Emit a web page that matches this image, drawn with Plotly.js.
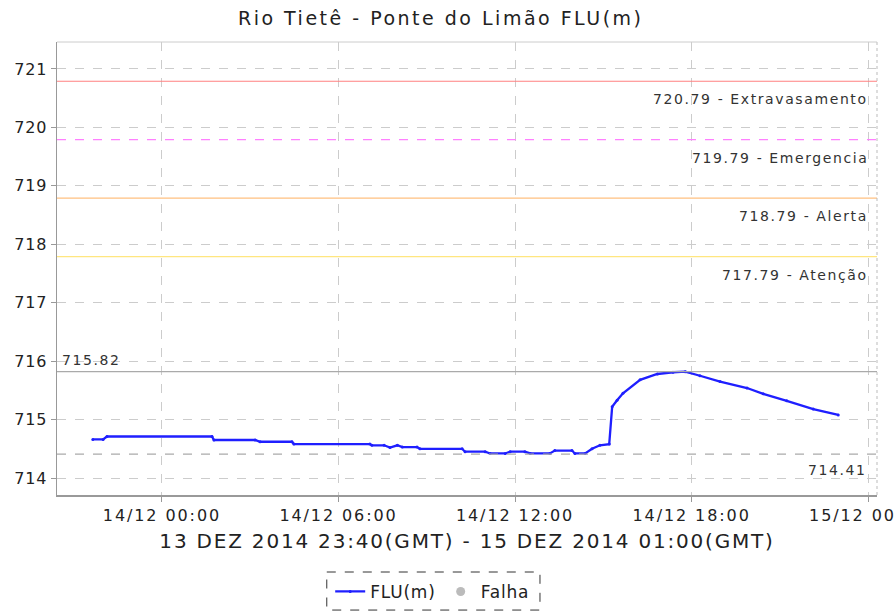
<!DOCTYPE html>
<html>
<head>
<meta charset="utf-8">
<script src="https://cdn.plot.ly/plotly-3.0.1.min.js"></script>
<style>
html,body{margin:0;padding:0;background:#fff;}
#chart{width:894px;height:614px;}
.gtitle{letter-spacing:2.5px;}
.xtitle{letter-spacing:1.8px;}
.xtick text{letter-spacing:1.9px;}
.ytick text{letter-spacing:0.8px;}
.annotation-text{letter-spacing:1.6px;}
.legendtext{letter-spacing:0.8px;}
</style>
</head>
<body>
<div id="chart"></div>
<script>
const times = [
  '2014-12-13 21:39','2014-12-13 22:00','2014-12-13 22:08','2014-12-14 01:42','2014-12-14 01:46',
  '2014-12-14 03:10','2014-12-14 03:20','2014-12-14 04:25','2014-12-14 04:29','2014-12-14 07:04',
  '2014-12-14 07:08','2014-12-14 07:33','2014-12-14 07:45','2014-12-14 08:00','2014-12-14 08:10',
  '2014-12-14 08:40','2014-12-14 08:46','2014-12-14 10:12','2014-12-14 10:18','2014-12-14 10:59',
  '2014-12-14 11:09','2014-12-14 11:40','2014-12-14 11:50','2014-12-14 12:20','2014-12-14 12:31',
  '2014-12-14 13:11','2014-12-14 13:21','2014-12-14 13:56','2014-12-14 14:02','2014-12-14 14:23',
  '2014-12-14 14:37','2014-12-14 14:53','2014-12-14 15:12','2014-12-14 15:18','2014-12-14 15:28',
  '2014-12-14 15:40','2014-12-14 16:15','2014-12-14 16:50','2014-12-14 17:22','2014-12-14 17:47',
  '2014-12-14 18:17','2014-12-14 18:58','2014-12-14 19:53','2014-12-14 20:26','2014-12-14 21:14',
  '2014-12-14 22:08','2014-12-14 22:59'
];
const levels = [
  714.66,714.66,714.71,714.71,714.65,
  714.65,714.62,714.62,714.58,714.58,
  714.56,714.56,714.52,714.56,714.53,
  714.53,714.50,714.50,714.45,714.45,
  714.42,714.42,714.45,714.45,714.42,
  714.42,714.47,714.47,714.42,714.42,
  714.50,714.56,714.58,715.22,715.33,
  715.45,715.68,715.78,715.81,715.82,
  715.75,715.65,715.54,715.44,715.32,
  715.18,715.08
];
const thresholdValues = [720.79, 719.79, 718.79, 717.79];
const thresholdNames = ['Extravasamento', 'Emergencia', 'Alerta', 'Atenção'];
const thresholdColors = ['#ff8080', '#ff80ff', '#ffc080', '#ffe680'];
const thresholdDash = ['solid', 'dash', 'solid', 'solid'];
const maxValue = 715.82;
const minValue = 714.41;
const xRange = ['2014-12-13 20:26', '2014-12-15 00:18'];
const yRange = [713.709, 721.462];

const font = 'DejaVu Sans, Liberation Sans, sans-serif';

const shapes = [];
const annotations = [];
thresholdValues.forEach((v, i) => {
  shapes.push({type:'line', xref:'paper', x0:0, x1:1, yref:'y', y0:v, y1:v,
    line:{color:thresholdColors[i], width:1.2, dash:thresholdDash[i]}});
  annotations.push({xref:'paper', x:0.992, xanchor:'right', yref:'y', y:v, yanchor:'top', yshift:-8,
    text: v.toFixed(2) + ' - ' + thresholdNames[i], showarrow:false,
    font:{family:font, size:14, color:'#333'}});
});
shapes.push({type:'line', xref:'paper', x0:0, x1:1, yref:'y', y0:maxValue, y1:maxValue,
  line:{color:'#aaaaaa', width:1.2}});
shapes.push({type:'line', xref:'paper', x0:0, x1:1, yref:'y', y0:minValue, y1:minValue,
  line:{color:'#aaaaaa', width:1.2, dash:'dash'}});
annotations.push({xref:'paper', x:0.004, xanchor:'left', yref:'y', y:maxValue, yanchor:'bottom', yshift:2,
  text: maxValue.toFixed(2), showarrow:false, font:{family:font, size:14, color:'#333'}});
annotations.push({xref:'paper', x:0.99, xanchor:'right', yref:'y', y:minValue, yanchor:'top', yshift:-6,
  text: minValue.toFixed(2), showarrow:false, font:{family:font, size:14, color:'#333'}});

const data = [
  {x: times, y: levels, type:'scatter', mode:'lines+markers', name:'FLU(m)',
   line:{color:'#1f1fff', width:2.3}, marker:{color:'#1f1fff', size:3}},
  {x:[null], y:[null], type:'scatter', mode:'markers', name:'Falha',
   marker:{color:'#bbbbbb', size:9}}
];

const layout = {
  width:894, height:614,
  margin:{l:57, r:17, t:42, b:119},
  paper_bgcolor:'#fff', plot_bgcolor:'#fff',
  title:{text:'Rio Tietê - Ponte do Limão FLU(m)', font:{family:font, size:19, color:'#222'}, x:0.493, xanchor:'center', y:0.97, yanchor:'middle', automargin:false},
  xaxis:{type:'date', range:xRange, dtick:6*3600*1000, tick0:'2014-12-14 00:00', tickformat:'%d/%m %H:%M',
    automargin:false,
    showgrid:true, gridcolor:'#cccccc', griddash:'dash', gridwidth:1,
    showline:true, linecolor:'#999', linewidth:1.5, mirror:false,
    ticks:'outside', ticklen:5, tickcolor:'#999', ticklabeloverflow:'allow',
    tickfont:{family:font, size:16, color:'#222'}, zeroline:false,
    title:{text:'13 DEZ 2014 23:40(GMT) - 15 DEZ 2014 01:00(GMT)', font:{family:font, size:20, color:'#222'}, standoff:10}},
  yaxis:{range:yRange, dtick:1, tick0:714, automargin:false,
    showgrid:true, gridcolor:'#cccccc', griddash:'dash', gridwidth:1,
    showline:true, linecolor:'#999', linewidth:1.5, mirror:false,
    ticks:'outside', ticklen:5, tickcolor:'#999',
    tickfont:{family:font, size:16, color:'#222'}, zeroline:false},
  shapes: shapes.concat([
    {type:'line', xref:'paper', yref:'paper', x0:1, x1:1, y0:0, y1:1, line:{color:'#bbb', width:1, dash:'dot'}},
    {type:'line', xref:'paper', yref:'paper', x0:0, x1:1, y0:1, y1:1, line:{color:'#ccc', width:1}},
    {type:'rect', xref:'paper', yref:'paper', x0:0.329, x1:0.589, y0:-0.17, y1:-0.254, line:{color:'#333', width:1, dash:'dash'}}
  ]),
  annotations: annotations,
  showlegend:true,
  legend:{orientation:'h', xref:'container', yref:'container', x:0.484, xanchor:'center', y:0.036, yanchor:'middle',
    borderwidth:0, font:{family:font, size:17, color:'#222'}, bgcolor:'rgba(0,0,0,0)'}
};

Plotly.newPlot('chart', data, layout, {displayModeBar:false, staticPlot:true});
</script>
</body>
</html>
